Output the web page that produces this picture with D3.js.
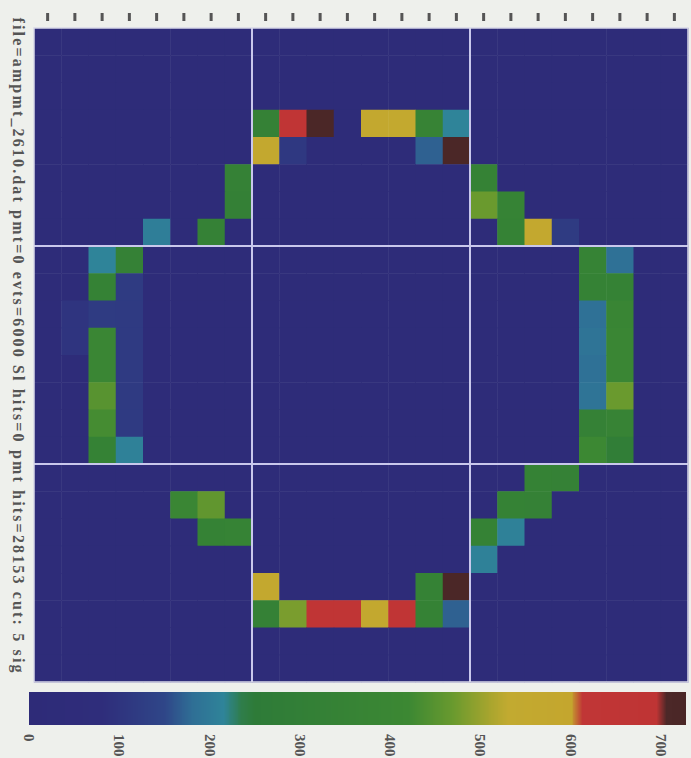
<!DOCTYPE html>
<html>
<head>
<meta charset="utf-8">
<script src="https://cdn.jsdelivr.net/npm/d3@7/dist/d3.min.js"></script>
<style>
  body { margin: 0; background: #eef0ec; }
  svg { display: block; }
</style>
</head>
<body>
<div id="chart"></div>
<script>
// heatmap data: 24 x 24 channels, background level plus the hit cells [row, col, value]
var nCells = 24;
var bgValue = 30;
var hits = [
  [3, 8, 330], [3, 9, 650], [3, 10, 715], [3, 12, 560], [3, 13, 555], [3, 14, 360], [3, 15, 215],
  [4, 8, 560], [4, 9, 110], [4, 14, 170], [4, 15, 712],
  [5, 7, 330], [5, 16, 340],
  [6, 7, 320], [6, 16, 470], [6, 17, 350],
  [7, 4, 205], [7, 6, 330], [7, 17, 340], [7, 18, 560], [7, 19, 120],
  [8, 2, 215], [8, 3, 330], [8, 20, 350], [8, 21, 185],
  [9, 2, 340], [9, 3, 120], [9, 20, 340], [9, 21, 340],
  [10, 1, 100], [10, 2, 120], [10, 3, 115], [10, 20, 185], [10, 21, 380],
  [11, 1, 100], [11, 2, 390], [11, 3, 115], [11, 20, 190], [11, 21, 390],
  [12, 2, 400], [12, 3, 115], [12, 20, 185], [12, 21, 400],
  [13, 2, 450], [13, 3, 115], [13, 20, 190], [13, 21, 470],
  [14, 2, 430], [14, 3, 115], [14, 20, 330], [14, 21, 360],
  [15, 2, 340], [15, 3, 210], [15, 20, 420], [15, 21, 290],
  [16, 18, 340], [16, 19, 330],
  [17, 5, 400], [17, 6, 460], [17, 17, 340], [17, 18, 330],
  [18, 6, 340], [18, 7, 350], [18, 16, 340], [18, 17, 210],
  [19, 16, 210],
  [20, 8, 560], [20, 14, 340], [20, 15, 712],
  [21, 8, 330], [21, 9, 480], [21, 10, 650], [21, 11, 650], [21, 12, 560], [21, 13, 650], [21, 14, 340], [21, 15, 170]
];

// colour palette (value stops -> colours) and colour bar ticks
var paletteStops = [0, 80, 150, 180, 215, 235, 250, 420, 470, 510, 530, 600, 612, 695, 705, 730];
var paletteColors = ["#2e2b78", "#2f2d7b", "#2f4688", "#2f6e95", "#2f8499", "#2f7d4a", "#2e7b38", "#3c8833",
                     "#6a9a2e", "#a8a52e", "#c2aa30", "#c4a62e", "#c03636", "#bf3434", "#4c2828", "#4a2626"];
var colorTicks = [0, 100, 200, 300, 400, 500, 600, 700];
var colorMax = 727;
var gridEvery = [8, 16];

var title = "file=ampmt_2610.dat  pmt=0  evts=6000  Sl hits=0  pmt hits=28153  cut: 5 sig";

var width = 691, height = 758;
var plot = { left: 34, right: 688, top: 28, bottom: 682 };

var svg = d3.select("#chart")
    .append("svg")
    .attr("width", width)
    .attr("height", height);

// scales
var x = d3.scaleLinear().domain([0, nCells]).range([plot.left, plot.right]);
var y = d3.scaleLinear().domain([0, nCells]).range([plot.top, plot.bottom]);
var color = d3.scaleLinear().domain(paletteStops).range(paletteColors).clamp(true);

// build the full grid
var lookup = {};
hits.forEach(function (h) { lookup[h[0] + "_" + h[1]] = h[2]; });
var cells = [];
for (var r = 0; r < nCells; r++) {
    for (var c = 0; c < nCells; c++) {
        var v = lookup[r + "_" + c];
        cells.push({ row: r, col: c, value: v === undefined ? bgValue : v });
    }
}

svg.append("g")
    .selectAll("rect")
    .data(cells)
    .join("rect")
    .attr("x", function (d) { return x(d.col); })
    .attr("y", function (d) { return y(d.row); })
    .attr("width", x(1) - x(0) + 0.5)
    .attr("height", y(1) - y(0) + 0.5)
    .attr("fill", function (d) { return color(d.value); });

// module separation lines
var grid = svg.append("g")
    .attr("stroke", "#c9c8ec")
    .attr("stroke-width", 2);
grid.selectAll(".vl")
    .data(gridEvery)
    .join("line")
    .attr("x1", function (d) { return x(d); })
    .attr("x2", function (d) { return x(d); })
    .attr("y1", plot.top)
    .attr("y2", plot.bottom);
grid.selectAll(".hl")
    .data(gridEvery)
    .join("line")
    .attr("y1", function (d) { return y(d); })
    .attr("y2", function (d) { return y(d); })
    .attr("x1", plot.left)
    .attr("x2", plot.right);

svg.append("rect")
    .attr("x", plot.left)
    .attr("y", plot.top)
    .attr("width", plot.right - plot.left)
    .attr("height", plot.bottom - plot.top)
    .attr("fill", "none")
    .attr("stroke", "#d8d8e8")
    .attr("stroke-width", 1.5);

// small ticks along the top
var xBand = d3.scaleBand().domain(d3.range(nCells)).range([plot.left, plot.right]);
var topAxis = svg.append("g")
    .attr("transform", "translate(0,21)")
    .call(d3.axisTop(xBand).tickSize(8).tickFormat(""));
topAxis.select(".domain").remove();
topAxis.selectAll("line").attr("stroke", "#555").attr("stroke-width", 3);

// rotated title on the left
svg.append("text")
    .attr("transform", "translate(13,345) rotate(90)")
    .attr("text-anchor", "middle")
    .attr("font-family", "Liberation Serif, serif")
    .attr("font-size", 16)
    .attr("font-weight", "bold")
    .attr("fill", "#555")
    .attr("textLength", 655)
    .attr("lengthAdjust", "spacing")
    .text(title);

// colour bar
var cb = d3.scaleLinear().domain([0, 700]).range([29, 661]);
var cbTop = 692, cbBottom = 725;
svg.append("g")
    .attr("shape-rendering", "crispEdges")
    .selectAll("rect")
    .data(d3.range(0, colorMax, 1))
    .join("rect")
    .attr("x", function (d) { return cb(d); })
    .attr("y", cbTop)
    .attr("width", cb(1) - cb(0) + 1)
    .attr("height", cbBottom - cbTop)
    .attr("fill", function (d) { return color(d); });

svg.append("g")
    .selectAll("text")
    .data(colorTicks)
    .join("text")
    .attr("transform", function (d) { return "translate(" + cb(d) + ",734) rotate(90)"; })
    .attr("dominant-baseline", "central")
    .attr("font-family", "Liberation Serif, serif")
    .attr("font-size", 15)
    .attr("font-weight", "bold")
    .attr("fill", "#555")
    .text(function (d) { return d; });
</script>
</body>
</html>
